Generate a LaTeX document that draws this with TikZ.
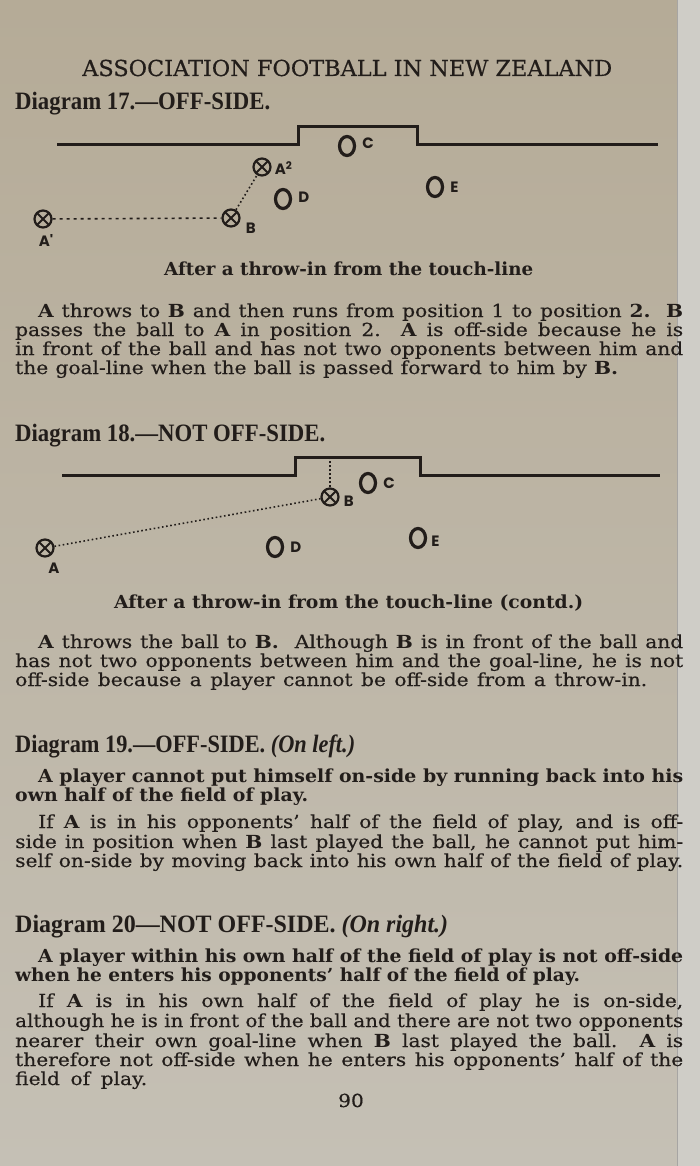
\documentclass[tikz,border=0pt]{standalone}
\usepackage{fontspec}
\setmainfont{DejaVu Serif}[FakeStretch=1.12, UprightFeatures={FakeBold=0.4}]
\newfontfamily\headfont{Liberation Serif}
\newfontfamily\labelfont{Poppins}
\usetikzlibrary{positioning,shapes.geometric}

\definecolor{papertop}{RGB}{181,171,151}
\definecolor{papermid}{RGB}{190,182,166}
\definecolor{paperbot}{RGB}{197,192,181}
\definecolor{leaf}{RGB}{207,205,199}
\definecolor{ink}{RGB}{34,29,26}

% one printed line, stretched (or squeezed) to its measured width
\newsavebox\linebox
\newcommand\fitline[2]{\sbox\linebox{#2}%
  \ifdim\wd\linebox>#1\relax\resizebox{#1}{\height}{\usebox\linebox}%
  \else\makebox[#1][s]{#2}\fi}

\tikzset{
  txt/.style={anchor=base west, inner sep=0pt, text=ink, font=\fontsize{18}{20}\selectfont},
  headline/.style={txt, font=\headfont\bfseries\fontsize{25}{28}\selectfont},
  caption/.style={txt, font=\bfseries\fontsize{18}{20}\selectfont},
  goal/.style={draw=ink, line width=3pt},
  opp/.style={ellipse, draw=ink, line width=3.2pt, minimum width=15pt, minimum height=19pt, inner sep=0pt},
  own/.style={circle, draw=ink, line width=2.2pt, minimum size=17pt, inner sep=0pt,
    path picture={\draw[ink, line width=1.8pt]
      (path picture bounding box.north west) -- (path picture bounding box.south east)
      (path picture bounding box.north east) -- (path picture bounding box.south west);}},
  tag/.style={inner sep=0pt, text=ink, font=\labelfont\bfseries\fontsize{15}{15}\selectfont},
  run/.style={ink, line width=1.6pt, dash pattern=on 3pt off 4pt},
  pass/.style={ink, line width=1.6pt, dash pattern=on 1.6pt off 2.6pt},
}

\begin{document}
\begin{tikzpicture}[x=1pt,y=-1pt]
\useasboundingbox (0,0) rectangle (700,1166);
\shade[top color=papertop, middle color=papermid, bottom color=paperbot] (0,0) rectangle (700,1166);
\fill[leaf] (677,0) rectangle (700,1166);
\draw[ink!40, line width=0.8pt] (677,0) -- (677,1166);

\node[txt, font=\fontsize{22}{24}\selectfont] (title) at (82,76) {\fitline{530pt}{ASSOCIATION FOOTBALL IN NEW ZEALAND}};

% diagram 17
\node[headline] (h17) at (15,110) {\fitline{255pt}{Diagram 17.—OFF-SIDE.}};
\draw[goal] (57,145) -- (298,145) -- (298,127) -- (417,127) -- (417,145) -- (658,145);
\node[opp] (c1) at (347,146) {};
\node[opp] (d1) at (283,199) {};
\node[opp] (e1) at (435,187) {};
\node[own] (a2) at (262,167) {};
\node[own] (b1) at (231,218) {};
\node[own] (a1) at (43,219) {};
\node[tag, right=6pt of c1, yshift=3pt] (lc1) {C};
\node[tag, right=6pt of d1, yshift=2pt] (ld1) {D};
\node[tag, right=6pt of e1] (le1) {E};
\node[tag, right=3pt of a2, yshift=-1pt] (la2) {A\textsuperscript{2}};
\node[tag, right=5pt of b1, yshift=-10pt] (lb1) {B};
\node[tag, below=6pt of a1, xshift=3pt] (la1) {A'};
\draw[run] (a1) -- (b1);
\draw[pass] (b1) -- (a2);
\node[caption] (cap17) at (164,275) {\fitline{369pt}{After a throw-in from the touch-line}};

\node[txt] (p17a) at (38,317) {\fitline{645pt}{{\bfseries A} throws to {\bfseries B} and then runs from position 1 to position {\bfseries 2.}\ \ {\bfseries B}}};
\node[txt] (p17b) at (15,336) {\fitline{668pt}{passes the ball to {\bfseries A} in position 2.\ \ {\bfseries A} is off-side because he is}};
\node[txt] (p17c) at (15,355) {\fitline{668pt}{in front of the ball and has not two opponents between him and}};
\node[txt] (p17d) at (15,374) {\fitline{603pt}{the goal-line when the ball is passed forward to him by {\bfseries B.}}};

% diagram 18
\node[headline] (h18) at (15,441) {\fitline{310pt}{Diagram 18.—NOT OFF-SIDE.}};
\draw[goal] (62,475) -- (295,475) -- (295,457) -- (420,457) -- (420,475) -- (660,475);
\coordinate (g2) at (330,457);
\node[own] (b2) at (330,497) {};
\node[opp] (c2) at (368,483) {};
\node[opp] (d2) at (275,547) {};
\node[opp] (e2) at (418,538) {};
\node[own] (a3) at (45,548) {};
\node[tag, right=4pt of b2, yshift=-4pt] (lb2) {B};
\node[tag, right=6pt of c2] (lc2) {C};
\node[tag, right=6pt of d2] (ld2) {D};
\node[tag, right=4pt of e2, yshift=-3pt] (le2) {E};
\node[tag, below=5pt of a3, xshift=9pt] (la3) {A};
\draw[pass] (a3) -- (b2);
\draw[run, dash pattern=on 2pt off 2pt] (b2) -- (g2);
\node[caption] (cap18) at (114,608) {\fitline{469pt}{After a throw-in from the touch-line (contd.)}};

\node[txt] (p18a) at (38,648) {\fitline{645pt}{{\bfseries A} throws the ball to {\bfseries B.}\ \ Although {\bfseries B} is in front of the ball and}};
\node[txt] (p18b) at (15,667) {\fitline{668pt}{has not two opponents between him and the goal-line, he is not}};
\node[txt] (p18c) at (15,686) {\fitline{632pt}{off-side because a player cannot be off-side from a throw-in.}};

% diagram 19
\node[headline] (h19) at (15,752) {\fitline{340pt}{Diagram 19.—OFF-SIDE. {\itshape(On left.)}}};
\node[txt] (p19a) at (38,782) {\fitline{645pt}{\bfseries A player cannot put himself on-side by running back into his}};
\node[txt] (p19b) at (15,801) {\fitline{293pt}{\bfseries own half of the field of play.}};
\node[txt] (p19c) at (38,828) {\fitline{645pt}{If {\bfseries A} is in his opponents’ half of the field of play, and is off-}};
\node[txt] (p19d) at (15,848) {\fitline{668pt}{side in position when {\bfseries B} last played the ball, he cannot put him-}};
\node[txt] (p19e) at (15,867) {\fitline{668pt}{self on-side by moving back into his own half of the field of play.}};

% diagram 20
\node[headline] (h20) at (15,932) {\fitline{433pt}{Diagram 20—NOT OFF-SIDE. {\itshape(On right.)}}};
\node[txt] (p20a) at (38,962) {\fitline{645pt}{\bfseries A player within his own half of the field of play is not off-side}};
\node[txt] (p20b) at (15,981) {\fitline{565pt}{\bfseries when he enters his opponents’ half of the field of play.}};
\node[txt] (p20c) at (38,1007) {\fitline{645pt}{If {\bfseries A} is in his own half of the field of play he is on-side,}};
\node[txt] (p20d) at (15,1027) {\fitline{668pt}{although he is in front of the ball and there are not two opponents}};
\node[txt] (p20e) at (15,1047) {\fitline{668pt}{nearer their own goal-line when {\bfseries B} last played the ball.\ \ {\bfseries A} is}};
\node[txt] (p20f) at (15,1066) {\fitline{668pt}{therefore not off-side when he enters his opponents’ half of the}};
\node[txt] (p20g) at (15,1085) {\fitline{132pt}{field of play.}};

\node[txt, anchor=base] (folio) at (351,1107) {90};
\end{tikzpicture}
\end{document}
